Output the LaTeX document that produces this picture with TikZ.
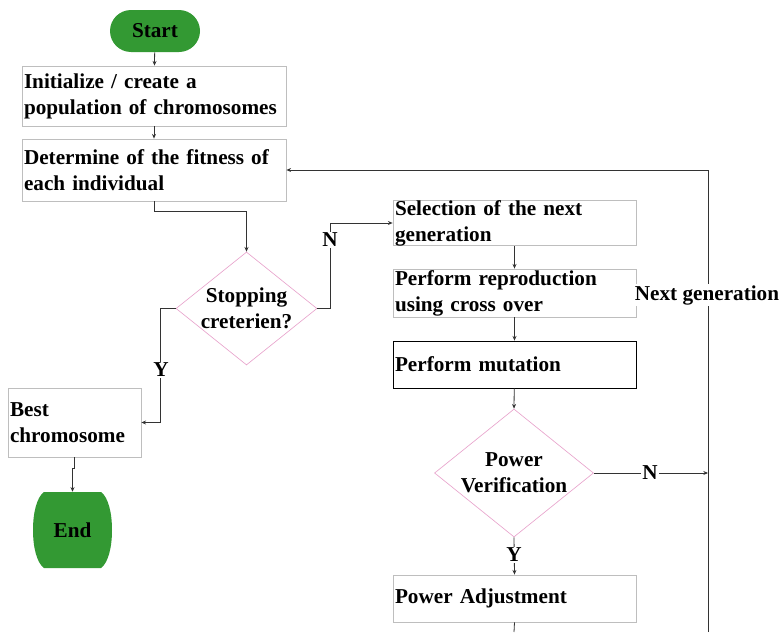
\documentclass[tikz,border=0pt]{standalone}
\usepackage{fontspec}
\setmainfont{Liberation Serif}
\usetikzlibrary{shapes.geometric,shapes.misc,arrows.meta}

\definecolor{startgreen}{RGB}{51,153,51}
\definecolor{boxgray}{RGB}{190,190,190}
\definecolor{diapink}{RGB}{232,165,205}

\tikzset{
  txt/.style={font=\fontsize{15.9}{19.5}\selectfont\bfseries},
  procbox/.style={txt, rectangle, draw=boxgray, line width=0.6pt, inner xsep=1.5pt, inner ysep=0pt, align=left},
  decision/.style={diamond, draw=diapink, line width=0.5pt, inner sep=0pt},
  terminal/.style={txt, fill=startgreen, inner sep=0pt},
  conn/.style={draw=black!80, line width=0.6pt, -{Stealth[length=3.5pt,width=3pt]}},
  wire/.style={draw=black!80, line width=0.6pt},
  yn/.style={txt, fill=white, inner sep=1pt}
}

\begin{document}
\begin{tikzpicture}[x=0.75pt,y=0.75pt,yscale=-1]
\useasboundingbox (0,0) rectangle (781,632);

% terminals
\node[terminal, rounded rectangle, minimum width=67.5pt, minimum height=31.5pt] (start) at (155,31) {Start};
% barrel shaped end
\fill[startgreen] (44,492) -- (101,492) .. controls (108,497) and (112,512) .. (112,530)
  .. controls (112,548) and (108,563) .. (101,568) -- (44,568)
  .. controls (37,563) and (33,548) .. (33,530) .. controls (33,512) and (37,497) .. (44,492) -- cycle;
\node[txt, inner sep=0pt, minimum width=59.25pt, minimum height=57pt] (end) at (72.5,530) {End};

% left column
\node[procbox, text width=195pt, minimum height=45pt] (init) at (154,96) {Initialize / create a\\population of chromosomes};
\node[procbox, text width=195pt, minimum height=46.5pt] (fitness) at (154,170) {Determine of the fitness of\\each individual};
\node[decision, minimum width=105.75pt, minimum height=84.75pt] (stop) at (246.5,308.5) {};
\node[txt, align=center] (stoptxt) at (stop.center) {Stopping\\creterien?};
\node[procbox, text width=96.75pt, minimum height=51.75pt] (best) at (74.5,422.5) {Best\\chromosome};

% right column
\node[procbox, text width=179.25pt, minimum height=33pt] (select) at (514.5,223) {Selection of the next\\generation};
\node[procbox, text width=179.25pt, minimum height=36pt] (repro) at (514.5,293) {Perform reproduction\\using cross over};
\node[procbox, draw=black, text width=179.25pt, minimum height=35.25pt] (mutate) at (514.5,364.5) {Perform mutation};
\node[decision, minimum width=119.25pt, minimum height=96pt] (verify) at (514,473) {};
\node[txt, align=center] (verifytxt) at (verify.center) {Power\\Verification};
\node[procbox, text width=179.25pt, minimum height=35.25pt] (adjust) at (514.5,598.5) {Power Adjustment};

\coordinate (loopin) at (708,473);
\coordinate (loopend) at (708,632);
\coordinate (adjustend) at (514,632);

% connectors
\draw[conn] (start) -- (init);
\draw[conn] (init) -- (fitness);
\draw[conn] (fitness.south) -- ++(0,10) -| (stop.north);
\draw[conn] (stop.east) -- ++(13,0) |- (select.west);
\draw[conn] (stop.west) -- ++(-15,0) |- (best.east);
\draw[conn] (best.south) -- ++(0,11) -| (end.north);
\draw[conn] (select) -- (repro);
\draw[conn] (repro) -- (mutate);
\draw[conn] (mutate) -- (verify.north);
\draw[conn] (verify.east) -- (loopin);
\draw[conn] (verify.south) -- (adjust.north);
\draw[wire] (adjust.south) -- (adjustend);
\draw[conn] (loopend) |- (fitness.east);

% labels on the connectors
\node[yn] (nostop) at (330,240) {N};
\node[yn] (yesstop) at (161,370) {Y};
\node[yn] (noverify) at (650,473) {N};
\node[yn] (yesverify) at (514,555) {Y};
\node[yn] (nextgen) at (707,295) {Next generation};

\end{tikzpicture}
\end{document}
